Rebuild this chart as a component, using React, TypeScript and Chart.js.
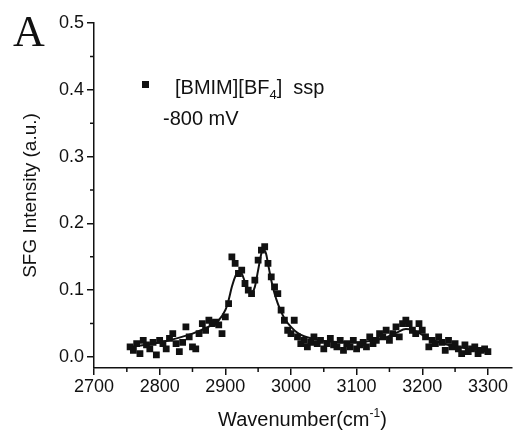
import React, { useEffect, useRef } from "react";
import { Chart, registerables } from "chart.js";

Chart.register(...registerables);

const wavenumbers: number[] = [
  2755, 2760, 2765, 2770, 2775, 2780, 2785, 2790, 2795, 2800, 2805, 2810, 2815, 2820, 2825, 2830,
  2835, 2840, 2845, 2850, 2855, 2860, 2865, 2870, 2875, 2880, 2885, 2890, 2895, 2900, 2905, 2910,
  2915, 2920, 2925, 2930, 2935, 2940, 2945, 2950, 2955, 2960, 2965, 2970, 2975, 2980, 2985, 2990,
  2995, 3000, 3005, 3010, 3015, 3020, 3025, 3030, 3035, 3040, 3045, 3050, 3055, 3060, 3065, 3070,
  3075, 3080, 3085, 3090, 3095, 3100, 3105, 3110, 3115, 3120, 3125, 3130, 3135, 3140, 3145, 3150,
  3155, 3160, 3165, 3170, 3175, 3180, 3185, 3190, 3195, 3200, 3205, 3210, 3215, 3220, 3225, 3230,
  3235, 3240, 3245, 3250, 3255, 3260, 3265, 3270, 3275, 3280, 3285, 3290, 3295, 3300,
];

const intensities: number[] = [
  0.015, 0.01, 0.02, 0.005, 0.025, 0.018, 0.012, 0.022, 0.003, 0.025, 0.02, 0.012, 0.028, 0.035, 0.02, 0.008,
  0.022, 0.045, 0.03, 0.015, 0.012, 0.035, 0.05, 0.04, 0.055, 0.05, 0.052, 0.048, 0.035, 0.06, 0.08, 0.15,
  0.14, 0.125, 0.13, 0.11, 0.1, 0.095, 0.115, 0.145, 0.16, 0.165, 0.14, 0.12, 0.105, 0.095, 0.07, 0.055,
  0.04, 0.035, 0.055, 0.03, 0.02, 0.025, 0.015, 0.022, 0.03, 0.02, 0.025, 0.012, 0.02, 0.028, 0.018, 0.015,
  0.025, 0.01, 0.02, 0.015, 0.025, 0.012, 0.018, 0.022, 0.015, 0.03, 0.02, 0.025, 0.035, 0.03, 0.04, 0.025,
  0.035, 0.045, 0.03, 0.05, 0.055, 0.05, 0.04, 0.035, 0.05, 0.04, 0.03, 0.015, 0.025, 0.02, 0.03, 0.022,
  0.01, 0.025, 0.015, 0.02, 0.012, 0.005, 0.018, 0.008, 0.012, 0.015, 0.005, 0.01, 0.012, 0.008,
];

const fitX: number[] = [
  2755, 2770, 2790, 2810, 2830, 2850, 2870, 2880, 2890, 2900, 2905, 2910, 2915, 2920, 2925, 2930,
  2935, 2940, 2945, 2950, 2955, 2958, 2962, 2965, 2970, 2975, 2980, 2990, 3000, 3010, 3020, 3040,
  3060, 3080, 3100, 3120, 3140, 3160, 3175, 3185, 3200, 3220, 3240, 3260, 3280, 3300,
];

const fitY: number[] = [
  0.015, 0.017, 0.02, 0.024, 0.029, 0.035, 0.043, 0.048, 0.055, 0.07, 0.085, 0.105, 0.12, 0.128, 0.125, 0.112,
  0.1, 0.097, 0.105, 0.13, 0.155, 0.16, 0.155, 0.14, 0.115, 0.095, 0.08, 0.058, 0.045, 0.036, 0.031, 0.026,
  0.023, 0.022, 0.022, 0.024, 0.028, 0.036, 0.042, 0.041, 0.033, 0.024, 0.018, 0.014, 0.011, 0.01,
];

const xTicks: number[] = [2700, 2800, 2900, 3000, 3100, 3200, 3300];
const xMinorTicks: number[] = [2750, 2850, 2950, 3050, 3150, 3250];
const yTicks: number[] = [0.0, 0.1, 0.2, 0.3, 0.4, 0.5];
const yMinorTicks: number[] = [0.05, 0.15, 0.25, 0.35, 0.45];

const SANS = '"Liberation Sans", Arial, sans-serif';
const INK = "#111";

const overlay = {
  id: "overlay",
  afterDraw(chart: any) {
    const ctx = chart.ctx as CanvasRenderingContext2D;
    const xs = chart.scales.x;
    const ys = chart.scales.y;
    const area = chart.chartArea;
    ctx.save();
    ctx.strokeStyle = INK;
    ctx.lineWidth = 1.5;
    // minor ticks
    ctx.beginPath();
    for (const v of yMinorTicks) {
      const py = ys.getPixelForValue(v);
      ctx.moveTo(area.left - 4, py);
      ctx.lineTo(area.left, py);
    }
    for (const v of xMinorTicks) {
      const px = xs.getPixelForValue(v);
      ctx.moveTo(px, area.bottom);
      ctx.lineTo(px, area.bottom + 4);
    }
    ctx.stroke();

    ctx.fillStyle = INK;
    // panel letter
    ctx.font = '44px "Liberation Serif", serif';
    ctx.textAlign = "left";
    ctx.textBaseline = "alphabetic";
    ctx.fillText("A", 13, 46);

    // legend
    ctx.fillRect(142, 81, 7, 7);
    ctx.font = "20px " + SANS;
    let x = 175;
    const base = 94;
    ctx.fillText("[BMIM][BF", x, base);
    x += ctx.measureText("[BMIM][BF").width;
    ctx.font = "13px " + SANS;
    ctx.fillText("4", x, base + 5);
    x += ctx.measureText("4").width;
    ctx.font = "20px " + SANS;
    ctx.fillText("]  ssp", x, base);
    ctx.fillText("-800 mV", 163, 125);

    // x title with superscript
    const t1 = "Wavenumber(cm";
    const t2 = "-1";
    const t3 = ")";
    ctx.font = "20px " + SANS;
    const w1 = ctx.measureText(t1).width;
    const w3 = ctx.measureText(t3).width;
    ctx.font = "12px " + SANS;
    const w2 = ctx.measureText(t2).width;
    let tx = 218;
    const tb = 426;
    ctx.font = "20px " + SANS;
    ctx.fillText(t1, tx, tb);
    tx += w1;
    ctx.font = "12px " + SANS;
    ctx.fillText(t2, tx, tb - 9);
    tx += w2;
    ctx.font = "20px " + SANS;
    ctx.fillText(t3, tx, tb);

    // y title
    ctx.translate(36, (area.top + area.bottom) / 2);
    ctx.rotate(-Math.PI / 2);
    ctx.textAlign = "center";
    ctx.font = "19px " + SANS;
    ctx.fillText("SFG Intensity (a.u.)", 0, 0);
    ctx.restore();
  },
};

export default function App() {
  const ref = useRef<HTMLCanvasElement | null>(null);
  useEffect(() => {
    if (!ref.current) return;
    const chart = new Chart(ref.current, {
      type: "scatter",
      data: {
        datasets: [
          {
            label: "fit",
            data: fitX.map((x, i) => ({ x, y: fitY[i] })),
            showLine: true,
            borderColor: INK,
            borderWidth: 2,
            pointRadius: 0,
            tension: 0.4,
            cubicInterpolationMode: "monotone",
            fill: false,
            order: 2,
          } as any,
          {
            label: "[BMIM][BF4] ssp",
            data: wavenumbers.map((x, i) => ({ x, y: intensities[i] })),
            pointStyle: "rect",
            pointRadius: 4.8,
            backgroundColor: INK,
            borderColor: INK,
            borderWidth: 0,
            showLine: false,
            order: 1,
          } as any,
        ],
      },
      options: {
        animation: false,
        responsive: false,
        maintainAspectRatio: false,
        layout: { padding: { top: 23, right: 2, left: 0, bottom: 0 } },
        plugins: {
          legend: { display: false },
          tooltip: { enabled: false },
          title: { display: false },
        },
        scales: {
          x: {
            type: "linear",
            min: 2700,
            max: 3337,
            afterBuildTicks: (s: any) => {
              s.ticks = xTicks.map((v) => ({ value: v }));
            },
            afterFit: (s: any) => {
              s.height = 68;
            },
            grid: {
              drawOnChartArea: false,
              drawTicks: true,
              tickLength: 7,
              color: INK,
              lineWidth: 1.5,
            },
            border: { display: true, color: INK, width: 1.5 },
            ticks: {
              color: INK,
              font: { size: 18, family: SANS },
              padding: 1,
              maxRotation: 0,
              callback: (v: any) => String(v),
            },
          },
          y: {
            type: "linear",
            min: -0.0165,
            max: 0.5,
            afterBuildTicks: (s: any) => {
              s.ticks = yTicks.map((v) => ({ value: v }));
            },
            afterFit: (s: any) => {
              s.width = 94;
            },
            grid: {
              drawOnChartArea: false,
              drawTicks: true,
              tickLength: 7,
              color: INK,
              lineWidth: 1.5,
            },
            border: { display: true, color: INK, width: 1.5 },
            ticks: {
              color: INK,
              font: { size: 18, family: SANS },
              padding: 3,
              callback: (v: any) => Number(v).toFixed(1),
            },
          },
        },
      } as any,
      plugins: [overlay],
    });
    return () => chart.destroy();
  }, []);
  return (
    <div style={{ position: "absolute", left: 0, top: 0, width: 517, height: 436, background: "#fff" }}>
      <canvas ref={ref} width={517} height={436} style={{ display: "block" }} />
    </div>
  );
}
